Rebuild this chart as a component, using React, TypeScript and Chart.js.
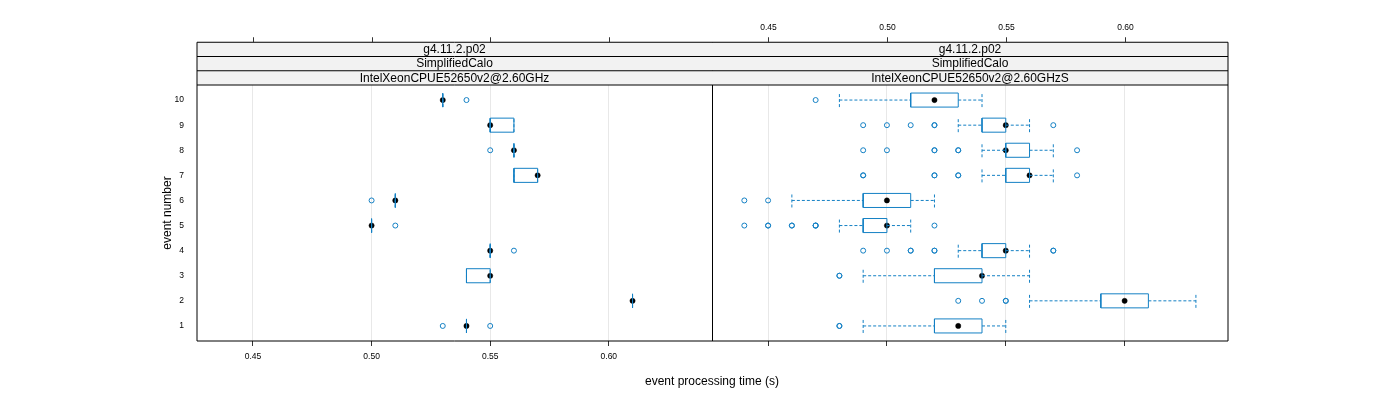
import React, { useEffect, useRef } from 'react';
import { Chart, registerables } from 'chart.js';

Chart.register(...registerables);

// ---------- data ----------
const EVENTS = [1, 2, 3, 4, 5, 6, 7, 8, 9, 10];
const X_TICKS = [0.45, 0.5, 0.55, 0.6];
const X_MIN = 0.4264;
const X_MAX = 0.6435;
const Y_MIN = 0.4;
const Y_MAX = 10.6;

const STRIPS_LEFT = ['g4.11.2.p02', 'SimplifiedCalo', 'IntelXeonCPUE52650v2@2.60GHz'];
const STRIPS_RIGHT = ['g4.11.2.p02', 'SimplifiedCalo', 'IntelXeonCPUE52650v2@2.60GHzS'];

// Left panel (IntelXeonCPUE52650v2@2.60GHz), per event 1..10
const L_LO = [0.54, 0.61, 0.54, 0.55, 0.5, 0.51, 0.56, 0.56, 0.55, 0.53];
const L_Q1 = [0.54, 0.61, 0.54, 0.55, 0.5, 0.51, 0.56, 0.56, 0.55, 0.53];
const L_MED = [0.54, 0.61, 0.55, 0.55, 0.5, 0.51, 0.57, 0.56, 0.55, 0.53];
const L_Q3 = [0.54, 0.61, 0.55, 0.55, 0.5, 0.51, 0.57, 0.56, 0.56, 0.53];
const L_HI = [0.54, 0.61, 0.55, 0.55, 0.5, 0.51, 0.57, 0.56, 0.56, 0.53];
const L_OUT = [[0.53, 0.55], [], [], [0.56], [0.51], [0.5], [], [0.55], [], [0.54]];

// Right panel (IntelXeonCPUE52650v2@2.60GHzS)
const R_LO = [0.49, 0.56, 0.49, 0.53, 0.48, 0.46, 0.54, 0.54, 0.53, 0.48];
const R_Q1 = [0.52, 0.59, 0.52, 0.54, 0.49, 0.49, 0.55, 0.55, 0.54, 0.51];
const R_MED = [0.53, 0.6, 0.54, 0.55, 0.5, 0.5, 0.56, 0.55, 0.55, 0.52];
const R_Q3 = [0.54, 0.61, 0.54, 0.55, 0.5, 0.51, 0.56, 0.56, 0.55, 0.53];
const R_HI = [0.55, 0.63, 0.56, 0.56, 0.51, 0.52, 0.57, 0.57, 0.56, 0.54];
const R_OUT = [
  [0.48, 0.48],
  [0.53, 0.54, 0.55, 0.55],
  [0.48, 0.48],
  [0.49, 0.5, 0.51, 0.51, 0.52, 0.52, 0.57, 0.57],
  [0.44, 0.45, 0.45, 0.46, 0.46, 0.47, 0.47, 0.47, 0.52],
  [0.44, 0.45],
  [0.49, 0.49, 0.52, 0.52, 0.53, 0.53, 0.58],
  [0.49, 0.5, 0.52, 0.52, 0.53, 0.53, 0.58],
  [0.49, 0.5, 0.51, 0.52, 0.52, 0.57],
  [0.47],
];

// ---------- style ----------
const BLUE = '#1480c4';
const BOX_HALF = 0.28; // half box height in category units
const STRIP_H = 14.25;
const FONT = '"Liberation Sans", Arial, Helvetica, sans-serif';
const GRID = '#e8e8e8';

function buildDatasets(lo: number[], q1: number[], med: number[], q3: number[], hi: number[], out: number[][]) {
  const gap = (x: number) => ({ x, y: null as any });
  const box: any[] = [];
  const whisk: any[] = [];
  const caps: any[] = [];
  const meds: any[] = [];
  const outs: any[] = [];
  EVENTS.forEach((e, i) => {
    box.push(
      { x: q1[i], y: e - BOX_HALF },
      { x: q3[i], y: e - BOX_HALF },
      { x: q3[i], y: e + BOX_HALF },
      { x: q1[i], y: e + BOX_HALF },
      { x: q1[i], y: e - BOX_HALF },
      gap(q1[i])
    );
    if (lo[i] < q1[i]) whisk.push({ x: lo[i], y: e }, { x: q1[i], y: e }, gap(q1[i]));
    if (hi[i] > q3[i]) whisk.push({ x: q3[i], y: e }, { x: hi[i], y: e }, gap(hi[i]));
    caps.push(
      { x: lo[i], y: e - BOX_HALF },
      { x: lo[i], y: e + BOX_HALF },
      gap(lo[i]),
      { x: hi[i], y: e - BOX_HALF },
      { x: hi[i], y: e + BOX_HALF },
      gap(hi[i])
    );
    meds.push({ x: med[i], y: e });
    out[i].forEach((v) => outs.push({ x: v, y: e }));
  });
  const lineBase = {
    borderColor: BLUE,
    borderWidth: 1,
    pointRadius: 0,
    fill: false,
    tension: 0,
    spanGaps: false,
  };
  return [
    {
      label: 'outliers',
      data: outs,
      showLine: false,
      pointRadius: 2.5,
      pointStyle: 'circle',
      pointBorderColor: BLUE,
      pointBackgroundColor: 'rgba(0,0,0,0)',
      pointBorderWidth: 1,
      borderColor: BLUE,
    },
    { label: 'whiskers', data: whisk, ...lineBase, borderDash: [3, 2] },
    { label: 'caps', data: caps, ...lineBase, borderDash: [3, 2] },
    { label: 'boxes', data: box, ...lineBase },
    {
      label: 'medians',
      data: meds,
      showLine: false,
      pointRadius: 2.6,
      pointStyle: 'circle',
      pointBorderColor: '#000',
      pointBackgroundColor: '#000',
      pointBorderWidth: 0.5,
      borderColor: '#000',
    },
  ];
}

function panelPlugin(strips: string[], topLabels: boolean, drawLeft: boolean) {
  return {
    id: 'panelDecor',
    afterDraw(chart: any) {
      const { ctx, chartArea } = chart;
      const xs = chart.scales.x;
      const { left, right, top, bottom } = chartArea;
      const stripTop = top - STRIP_H * strips.length;
      ctx.save();
      // strips
      strips.forEach((s, i) => {
        const y0 = stripTop + i * STRIP_H;
        ctx.fillStyle = '#f2f2f2';
        ctx.fillRect(left, y0, right - left, STRIP_H);
        ctx.strokeStyle = '#000';
        ctx.lineWidth = 1;
        ctx.beginPath();
        ctx.moveTo(left, y0);
        ctx.lineTo(right, y0);
        ctx.stroke();
        ctx.fillStyle = '#000';
        ctx.font = `12px ${FONT}`;
        ctx.textAlign = 'center';
        ctx.textBaseline = 'middle';
        ctx.fillText(s, (left + right) / 2, y0 + STRIP_H / 2 + 0.5);
      });
      // panel border
      ctx.strokeStyle = '#000';
      ctx.lineWidth = 1;
      ctx.beginPath();
      ctx.moveTo(left, top);
      ctx.lineTo(right, top);
      ctx.moveTo(left, bottom);
      ctx.lineTo(right, bottom);
      if (drawLeft) {
        ctx.moveTo(left, stripTop);
        ctx.lineTo(left, bottom);
      } else {
        ctx.moveTo(right, stripTop);
        ctx.lineTo(right, bottom);
      }
      ctx.stroke();
      if (drawLeft) {
        ctx.beginPath();
        ctx.moveTo(Math.round(right) + 0.5, stripTop);
        ctx.lineTo(Math.round(right) + 0.5, bottom);
        ctx.stroke();
      }
      // top ticks
      ctx.strokeStyle = '#333';
      xs.ticks.forEach((t: any) => {
        const px = Math.round(xs.getPixelForValue(t.value)) + 0.5;
        ctx.beginPath();
        ctx.moveTo(px, stripTop - 5);
        ctx.lineTo(px, stripTop);
        ctx.stroke();
        if (topLabels) {
          ctx.fillStyle = '#000';
          ctx.font = `8.5px ${FONT}`;
          ctx.textAlign = 'center';
          ctx.textBaseline = 'middle';
          ctx.fillText(t.value.toFixed(2), px, stripTop - 15);
        }
      });
      ctx.restore();
    },
  };
}

function makeConfig(side: 'left' | 'right') {
  const isLeft = side === 'left';
  const ds = isLeft
    ? buildDatasets(L_LO, L_Q1, L_MED, L_Q3, L_HI, L_OUT)
    : buildDatasets(R_LO, R_Q1, R_MED, R_Q3, R_HI, R_OUT);
  return {
    type: 'line',
    data: { datasets: ds },
    options: {
      animation: false,
      responsive: false,
      events: [],
      layout: {
        autoPadding: false,
        padding: isLeft
          ? { left: 160, right: 1400 - 712, top: 85, bottom: 0 }
          : { left: 712, right: 1400 - 1228, top: 85, bottom: 0 },
      },
      plugins: { legend: { display: false }, tooltip: { enabled: false }, title: { display: false } },
      scales: {
        x: {
          type: 'linear',
          position: 'bottom',
          min: X_MIN,
          max: X_MAX,
          afterBuildTicks: (scale: any) => {
            scale.ticks = X_TICKS.map((v) => ({ value: v }));
          },
          afterFit: (scale: any) => {
            scale.height = 59;
          },
          grid: {
            display: true,
            drawOnChartArea: true,
            drawTicks: true,
            tickLength: 5,
            color: GRID,
            tickColor: '#333',
            lineWidth: 1,
          },
          border: { display: false },
          ticks: {
            display: isLeft,
            padding: 6,
            color: '#000',
            font: { family: FONT, size: 8.5 },
            maxRotation: 0,
            callback: (v: any) => Number(v).toFixed(2),
          },
        },
        y: {
          type: 'linear',
          position: 'left',
          display: isLeft,
          min: Y_MIN,
          max: Y_MAX,
          afterBuildTicks: (scale: any) => {
            scale.ticks = EVENTS.map((v) => ({ value: v }));
          },
          afterFit: (scale: any) => {
            scale.width = isLeft ? 37 : 0;
          },
          grid: { display: false },
          border: { display: false },
          ticks: {
            padding: 5,
            color: '#000',
            font: { family: FONT, size: 8.5 },
            callback: (v: any) => String(v),
          },
          title: {
            display: isLeft,
            text: 'event number',
            color: '#000',
            padding: 0,
            font: { family: FONT, size: 12 },
          },
        },
      },
    },
    plugins: [panelPlugin(isLeft ? STRIPS_LEFT : STRIPS_RIGHT, !isLeft, isLeft)],
  } as any;
}

export default function App() {
  const leftRef = useRef<HTMLCanvasElement>(null);
  const rightRef = useRef<HTMLCanvasElement>(null);

  useEffect(() => {
    const c1 = new Chart(leftRef.current as HTMLCanvasElement, makeConfig('left'));
    const c2 = new Chart(rightRef.current as HTMLCanvasElement, makeConfig('right'));
    return () => {
      c1.destroy();
      c2.destroy();
    };
  }, []);

  const canvasStyle: React.CSSProperties = { position: 'absolute', left: 0, top: 0, width: 1400, height: 400 };
  return (
    <div style={{ position: 'fixed', left: 0, top: 0, width: 1400, height: 400, background: '#fff' }}>
      <canvas ref={leftRef} width={1400} height={400} style={canvasStyle} />
      <canvas ref={rightRef} width={1400} height={400} style={canvasStyle} />
      <div
        style={{
          position: 'absolute',
          left: 512,
          width: 400,
          top: 373,
          textAlign: 'center',
          font: `12px ${FONT}`,
          lineHeight: '16px',
          color: '#000',
        }}
      >
        event processing time (s)
      </div>
    </div>
  );
}
